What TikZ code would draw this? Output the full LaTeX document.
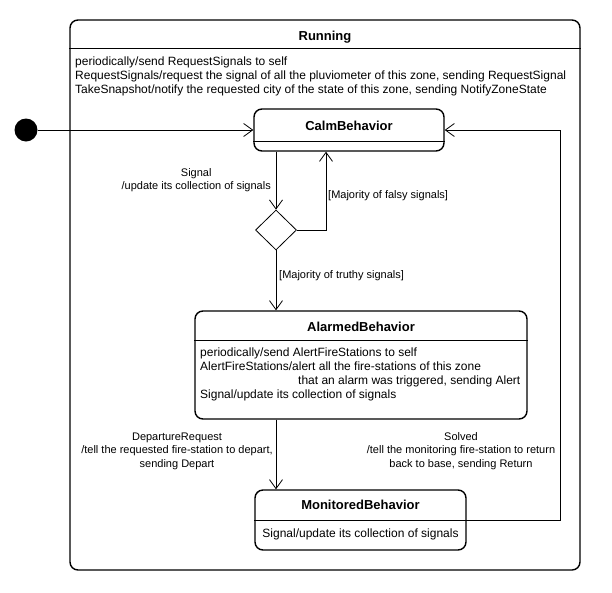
\documentclass[tikz,border=0pt]{standalone}
\usepackage{fontspec}
\setmainfont{Liberation Sans}
\usetikzlibrary{shapes.geometric,arrows.meta}
\begin{document}
\begin{tikzpicture}[x=1pt,y=-1pt,
  state/.style={draw,line width=1.4pt,rounded corners=8pt,inner sep=0pt},
  title/.style={font=\fontsize{13}{15}\selectfont\bfseries,inner sep=0pt},
  txt/.style={font=\fontsize{12}{14}\selectfont,inner sep=0pt},
  lbl/.style={font=\fontsize{11}{13.5}\selectfont,inner sep=0pt},
  arr/.style={-{Straight Barb[length=9pt,width=13pt]},line width=0.8pt}]
\useasboundingbox (0,0) rectangle (612,592);
% outer state
\node[state,minimum width=510pt,minimum height=550pt] (running) at (325,295) {};
\node[title] (runningtitle) at (325,37) {Running};
\draw[line width=0.8pt] ([yshift=-29pt]running.north west) -- ([yshift=-29pt]running.north east);
\node[txt,anchor=north west,align=left] (runningbody) at (75,57) {periodically/send RequestSignals to self\\
RequestSignals/request the signal of all the pluviometer of this zone, sending RequestSignal\\
TakeSnapshot/notify the requested city of the state of this zone, sending NotifyZoneState};
% states
\node[state,minimum width=190pt,minimum height=42pt] (calm) at (349,130) {};
\node[title] (calmtitle) at (349,126) {CalmBehavior};
\draw[line width=0.8pt] ([yshift=10pt]calm.south west) -- ([yshift=10pt]calm.south east);
\node[state,minimum width=332pt,minimum height=108pt] (alarmed) at (361,365) {};
\node[title] (alarmedtitle) at (361,327) {AlarmedBehavior};
\draw[line width=0.8pt] ([yshift=-30pt]alarmed.north west) -- ([yshift=-30pt]alarmed.north east);
\node[txt,anchor=north west,align=left] (alarmedbody) at (200,348) {periodically/send AlertFireStations to self\\
AlertFireStations/alert all the fire-stations of this zone\\
\hspace*{98pt}that an alarm was triggered, sending Alert\\
Signal/update its collection of signals};
\node[state,minimum width=211pt,minimum height=60pt] (monitored) at (360.5,520) {};
\node[title] (monitoredtitle) at (360.5,505) {MonitoredBehavior};
\draw[line width=0.8pt] (monitored.west) -- (monitored.east);
\node[txt] (monitoredbody) at (360.5,534) {Signal/update its collection of signals};
% pseudo states
\node[circle,fill=black,minimum size=23pt,inner sep=0pt] (init) at (26,130) {};
\node[diamond,draw,line width=0.8pt,aspect=1,minimum width=41pt,minimum height=40pt,inner sep=0pt] (choice) at (276,230) {};
% transitions
\coordinate (back) at (560,520);
\draw[arr] (init) -- (calm.west);
\draw[arr] (calm.south -| choice.north) -- (choice.north);
\draw[arr] (choice.east) -| ([xshift=-23pt]calm.south);
\draw[arr] (choice.south) -- (choice.south |- alarmed.north);
\draw[arr] (alarmed.south -| choice.south) -- (monitored.north -| choice.south);
\draw[arr] (monitored.east) -- (back) |- (calm.east);
% labels
\node[lbl,align=center,anchor=east] (signallabel) at (271,180) {Signal\\/update its collection of signals};
\node[lbl,anchor=west] (falsylabel) at (328,196) {[Majority of falsy signals]};
\node[lbl,anchor=west] (truthylabel) at (279,276) {[Majority of truthy signals]};
\node[lbl,align=center] (departlabel) at (177,451) {DepartureRequest\\/tell the requested fire-station to depart,\\sending Depart};
\node[lbl,align=center] (solvedlabel) at (461,451) {Solved\\/tell the monitoring fire-station to return\\back to base, sending Return};
\end{tikzpicture}
\end{document}
